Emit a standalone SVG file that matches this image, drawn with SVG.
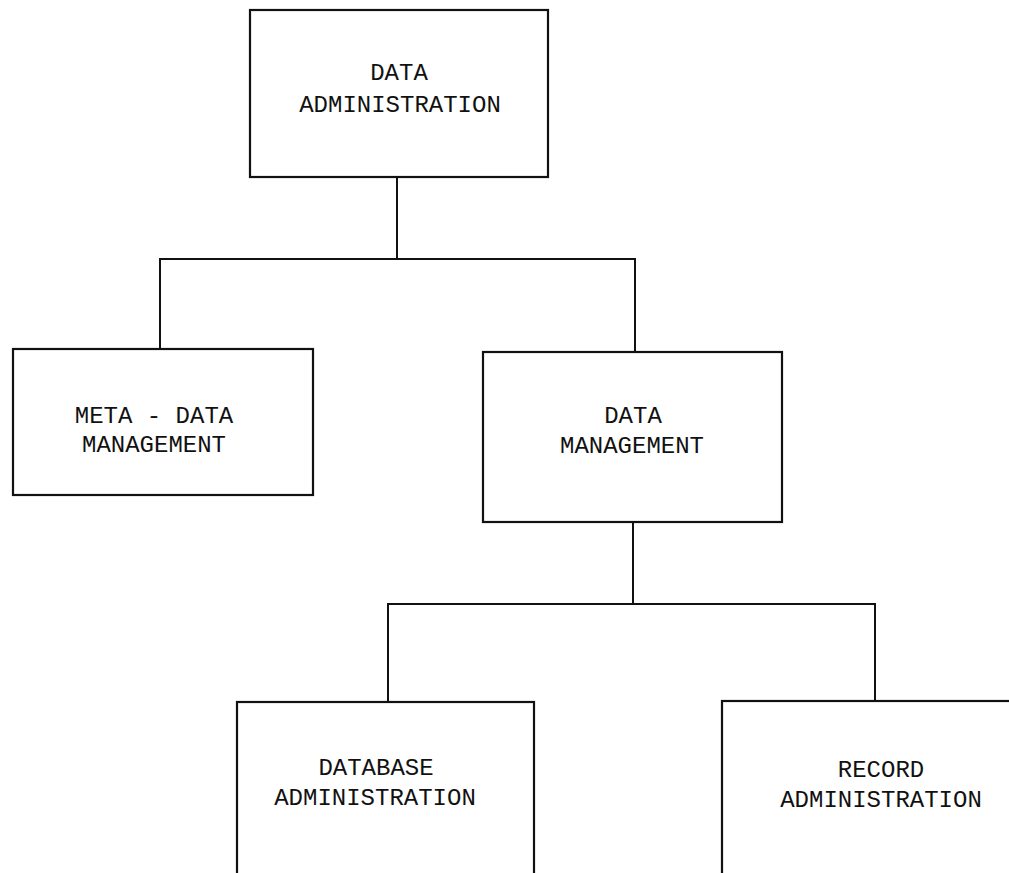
<svg xmlns="http://www.w3.org/2000/svg" width="1009" height="873" viewBox="0 0 1009 873">
<style>
.box{fill:none;stroke:#111;stroke-width:2.2}
.ln{fill:none;stroke:#111;stroke-width:2}
.t{font-family:"Liberation Mono","DejaVu Sans Mono",monospace;font-size:24px;fill:#111;text-anchor:middle}
</style>
<rect width="1009" height="873" fill="#fff"/>
<g id="connectors">
<path class="ln" d="M397 177 V259 M160 349 V259 H635 V352"/>
<path class="ln" d="M633 522 V604 M388 702 V604 H875 V701"/>
</g>
<g id="n-data-admin">
<rect class="box" x="250" y="10" width="298" height="167"/>
<text class="t" x="399" y="80">DATA</text>
<text class="t" x="400" y="112">ADMINISTRATION</text>
</g>
<g id="n-meta">
<rect class="box" x="13" y="349" width="300" height="146"/>
<text class="t" x="154" y="423">META - DATA</text>
<text class="t" x="154" y="452">MANAGEMENT</text>
</g>
<g id="n-data-mgmt">
<rect class="box" x="483" y="352" width="299" height="170"/>
<text class="t" x="633" y="423">DATA</text>
<text class="t" x="632" y="453">MANAGEMENT</text>
</g>
<g id="n-database">
<rect class="box" x="237" y="702" width="297" height="200"/>
<text class="t" x="376" y="775">DATABASE</text>
<text class="t" x="375" y="805">ADMINISTRATION</text>
</g>
<g id="n-record">
<rect class="box" x="722" y="701" width="320" height="200"/>
<text class="t" x="881" y="777">RECORD</text>
<text class="t" x="881" y="807">ADMINISTRATION</text>
</g>
</svg>
